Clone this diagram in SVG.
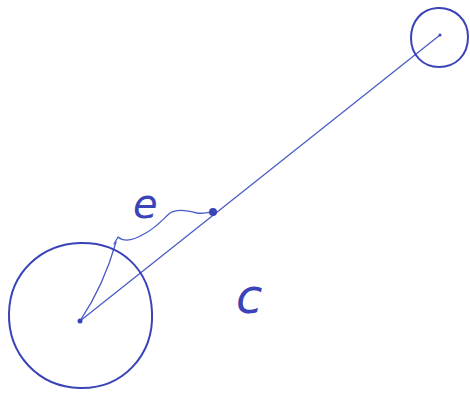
<svg xmlns="http://www.w3.org/2000/svg" width="470" height="394" viewBox="0 0 470 394">
<style>
.circ{fill:none;stroke:#3a44b8;stroke-width:2}
.ln{fill:none;stroke:#4a5cc8;stroke-width:1.3;stroke-linecap:round;stroke-linejoin:round}
.dot{fill:#3a44b8}
.lbl{font-family:"DejaVu Sans",sans-serif;font-weight:200;font-style:italic;fill:#3a44b8}
</style>
<rect width="470" height="394" fill="#ffffff"/>
<g id="connectors">
<path class="ln" d="M80,321 L440,35"/>
<path class="ln" d="M80,321 Q104,285 116,242"/>
<path class="ln" d="M114,244 L118,237 C124,242 134,240 144,234 C156,228 162,220 170,213 C176,209 186,210 197,213 C204,214 208,212 213,212"/>
</g>
<g id="bigCircle">
<path class="circ" d="M80,243 C120,242 150,268 152,312 C154,356 122,389 80,388 C38,387 8,354 9,313 C10,272 42,244 80,243 Z"/>
<circle class="dot" cx="80" cy="321" r="2.5"/>
</g>
<g id="smallCircle">
<path class="circ" d="M437,8 C455,7 468,20 468,37 C468,56 455,67 439,67 C423,67 411,55 411,38 C411,21 422,9 437,8 Z"/>
<circle class="dot" cx="440" cy="35" r="1.5"/>
</g>
<g id="midPoint">
<circle class="dot" cx="213" cy="212" r="4"/>
</g>
<g id="labels">
<text class="lbl" x="133" y="218" font-size="40">e</text>
<text class="lbl" x="236" y="313" font-size="48">c</text>
</g>
</svg>
